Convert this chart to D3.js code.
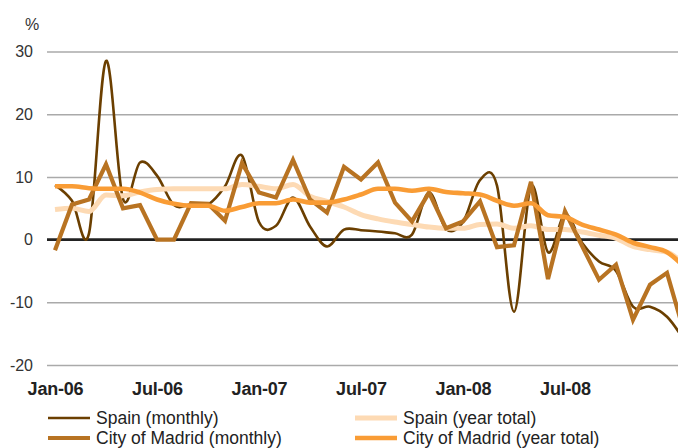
<!DOCTYPE html>
<html>
<head>
<meta charset="utf-8">
<script src="https://cdn.jsdelivr.net/npm/d3@7"></script>
<style>
  body { margin: 0; background: #fff; }
  svg { display: block; font-family: "Liberation Sans", Arial, Helvetica, sans-serif; }
  .y-axis text { font-size: 16px; fill: #333; }
  .x-axis text { font-size: 18px; font-weight: bold; fill: #222; letter-spacing: -0.2px; }
  .legend text { font-size: 17.5px; fill: #222; }
</style>
</head>
<body>
<svg width="678" height="448"></svg>
<script>

// months Jan-06 .. Feb-09
var months = d3.timeMonth.range(new Date(2006, 0, 1), new Date(2009, 2, 1))
    .map(d3.timeFormat("%b-%y"));

var xTickLabels = ["Jan-06", "Jul-06", "Jan-07", "Jul-07", "Jan-08", "Jul-08"];
var yTicks = [-20, -10, 0, 10, 20, 30];

var spainMonthly = [8.7, 6.2, 1.0, 28.5, 6.5, 12.3, 10.2, 5.5, 5.6, 5.6, 8.5, 13.4,
    2.8, 2.2, 6.7, 2.1, -1.1, 1.6, 1.5, 1.3, 1.0, 0.8, 7.5, 1.7,
    2.8, 9.5, 8.6, -11.5, 8.5, -2.0, 4.0, -0.5, -3.5, -5.0, -10.7, -10.7,
    -12.3, -16.0];

var spainYear = [4.8, 5.0, 4.5, 7.1, 7.0, 7.6, 8.0, 8.1, 8.1, 8.1, 8.1, 8.8,
    8.5, 8.1, 8.8, 6.9, 6.1, 5.2, 4.0, 3.3, 2.8, 2.4, 2.0, 1.8,
    1.8, 2.4, 2.5, 1.8, 2.2, 1.6, 1.6, 1.2, 0.7, 0.2, -1.1, -1.6,
    -2.0, -3.9];

var madridMonthly = [-1.7, 5.6, 6.4, 12.0, 5.0, 5.5, 0, 0, 5.8, 5.7, 3.0, 12.2,
    7.5, 6.7, 12.7, 6.4, 4.3, 11.6, 9.6, 12.3, 5.9, 2.9, 7.5, 1.8,
    2.9, 6.1, -1.2, -0.9, 9.2, -6.3, 4.5, -1.0, -6.4, -4.0, -12.8, -7.2,
    -5.3, -14.7];

var madridYear = [8.5, 8.5, 8.2, 8.1, 8.1, 7.5, 6.4, 5.7, 5.4, 5.4, 4.6, 5.2,
    5.8, 5.8, 6.4, 5.9, 5.9, 6.4, 7.2, 8.1, 8.1, 7.8, 8.1, 7.6,
    7.4, 7.2, 6.2, 5.4, 5.8, 3.9, 3.6, 2.4, 1.6, 0.8, -0.5, -1.2,
    -2.0, -4.3];

var series = [
    { name: "Spain (monthly)", values: spainMonthly, color: "#6b3f00", width: 2.6, curve: d3.curveCardinal },
    { name: "Spain (year total)", values: spainYear, color: "#fddab4", width: 5, curve: d3.curveMonotoneX },
    { name: "City of Madrid (monthly)", values: madridMonthly, color: "#b87322", width: 4.2, curve: d3.curveLinear },
    { name: "City of Madrid (year total)", values: madridYear, color: "#f99c35", width: 4.6, curve: d3.curveMonotoneX }
];

var svg = d3.select("svg");
var W = 678;

var x = d3.scaleLinear().domain([0, 37]).range([55, 684]);
var y = d3.scaleLinear().domain([-20, 30]).range([365, 51.5]);

// y axis + gridlines
var gy = svg.append("g")
    .attr("class", "y-axis")
    .attr("transform", "translate(47,0)")
    .call(d3.axisLeft(y).tickValues(yTicks)
        .tickFormat(function(d) { return String(d); })
        .tickSize(-(W - 47)).tickPadding(14));
gy.select(".domain").remove();
gy.selectAll(".tick line").attr("stroke", "#aaa").attr("stroke-width", 1.5);

svg.append("text")
    .attr("x", 32).attr("y", 30)
    .attr("text-anchor", "middle")
    .style("font-size", "16px").style("fill", "#333")
    .text("%");

// zero line
svg.append("line")
    .attr("x1", 47).attr("x2", W)
    .attr("y1", y(0)).attr("y2", y(0))
    .attr("stroke", "#222").attr("stroke-width", 2.6);

// x axis labels
var gx = svg.append("g")
    .attr("class", "x-axis")
    .attr("transform", "translate(0," + y(-20) + ")")
    .call(d3.axisBottom(x)
        .tickValues(xTickLabels.map(function(l) { return months.indexOf(l); }))
        .tickFormat(function(i) { return months[i]; })
        .tickSize(0).tickPadding(17));
gx.select(".domain").remove();

// lines
series.forEach(function(s) {
    var line = d3.line()
        .x(function(d, i) { return x(i); })
        .y(function(d) { return y(d); })
        .curve(s.curve);
    svg.append("path")
        .datum(s.values)
        .attr("fill", "none")
        .attr("stroke", s.color)
        .attr("stroke-width", s.width)
        .attr("stroke-linejoin", "miter")
        .attr("d", line);
});

// legend
var legend = svg.append("g").attr("class", "legend");
var item = legend.selectAll("g")
    .data(series)
    .enter().append("g")
    .attr("transform", function(d, i) {
        return "translate(" + (i % 2 ? 355 : 48) + "," + (i < 2 ? 418 : 438) + ")";
    });
item.append("line")
    .attr("x1", 0).attr("x2", 42)
    .attr("stroke", function(d) { return d.color; })
    .attr("stroke-width", function(d) { return d.width; });
item.append("text")
    .attr("x", 48).attr("y", 6)
    .text(function(d) { return d.name; });

</script>
</body>
</html>
